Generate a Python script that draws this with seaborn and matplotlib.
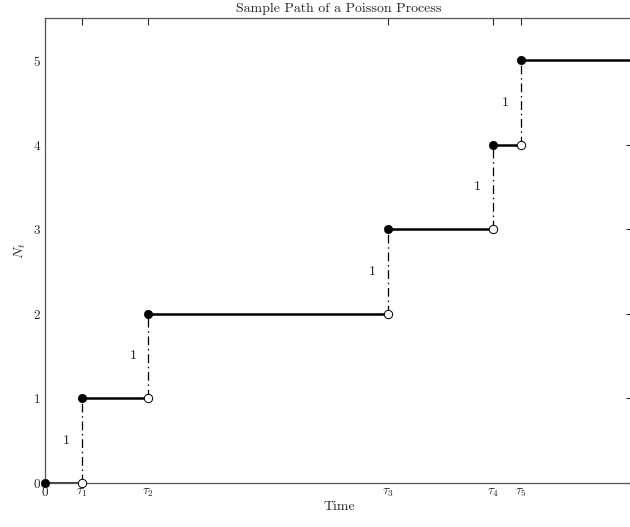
import matplotlib
matplotlib.use("Agg")
import matplotlib.pyplot as plt
import numpy as np
import pandas as pd
import seaborn as sns

# Arrival times of the sample path and the resulting counts
arrival_times = [0.378, 1.053, 3.497, 4.570, 4.857]
counts = [1, 2, 3, 4, 5]
t_end = 6.0
y_top = 5.5
tick_labels = ["0", r"$\tau_1$", r"$\tau_2$", r"$\tau_3$", r"$\tau_4$", r"$\tau_5$"]
jump_label = "1"

sns.set_style("white")
plt.rcParams["font.family"] = ["serif"]
plt.rcParams["font.serif"] = ["cmr10", "DejaVu Serif"]
plt.rcParams["mathtext.fontset"] = "cm"
plt.rcParams["axes.formatter.use_mathtext"] = True

fig = plt.figure(figsize=(6.3, 5.27), dpi=100)
ax = fig.add_axes([45 / 630, 44 / 527, 588 / 630, 465 / 527])

# Horizontal holding segments: [0, tau1) at 0, [tau_k, tau_{k+1}) at k
starts = [0.0] + arrival_times
ends = arrival_times + [t_end]
levels = [0] + counts
seg = pd.DataFrame({
    "t": [v for s, e in zip(starts, ends) for v in (s, e)],
    "n": [v for l in levels for v in (l, l)],
    "seg": [i for i in range(len(levels)) for _ in (0, 1)],
})
sns.lineplot(data=seg, x="t", y="n", units="seg", estimator=None,
             color="black", linewidth=1.8, ax=ax, legend=False)

# Jumps drawn as dash-dot verticals
jumps = pd.DataFrame({
    "t": [v for t in arrival_times for v in (t, t)],
    "n": [v for c in counts for v in (c - 1, c)],
    "seg": [i for i in range(len(counts)) for _ in (0, 1)],
})
sns.lineplot(data=jumps, x="t", y="n", units="seg", estimator=None,
             color="black", linewidth=0.9, linestyle=(0, (7, 3, 1.2, 3)),
             ax=ax, legend=False)

# Filled markers at the value taken after each jump, open ones at the left limit
filled = pd.DataFrame({"t": [0.0] + arrival_times, "n": [0] + counts})
hollow = pd.DataFrame({"t": arrival_times, "n": [c - 1 for c in counts]})
sns.scatterplot(data=filled, x="t", y="n", color="black", s=36,
                edgecolor="black", zorder=5, ax=ax, clip_on=False)
sns.scatterplot(data=hollow, x="t", y="n", facecolor="white", s=36,
                edgecolor="black", linewidth=0.7, zorder=5, ax=ax, clip_on=False)

for t, c in zip(arrival_times, counts):
    ax.annotate(jump_label, xy=(t, c - 0.5), xytext=(-11, 0),
                textcoords="offset points", ha="center", va="center",
                fontsize=10, color="#222222")

ax.set_xlim(0, t_end)
ax.set_ylim(0, y_top)
ax.set_xticks([0.0] + arrival_times)
ax.set_xticklabels(tick_labels)
ax.set_yticks(range(0, 6))
ax.tick_params(direction="in", top=True, right=True, length=5, width=0.8,
               labelsize=9.5, colors="#262626", pad=3)
for sp in ax.spines.values():
    sp.set_color("#555555")
    sp.set_linewidth(0.9)

ax.set_xlabel("Time", fontsize=10, labelpad=1, color="#262626")
ax.set_ylabel(r"$N_t$", fontsize=10, labelpad=3, color="#262626")
ax.set_title("Sample Path of a Poisson Process", fontsize=10, pad=4,
             color="#262626")

fig.savefig("out.png", dpi=100)
